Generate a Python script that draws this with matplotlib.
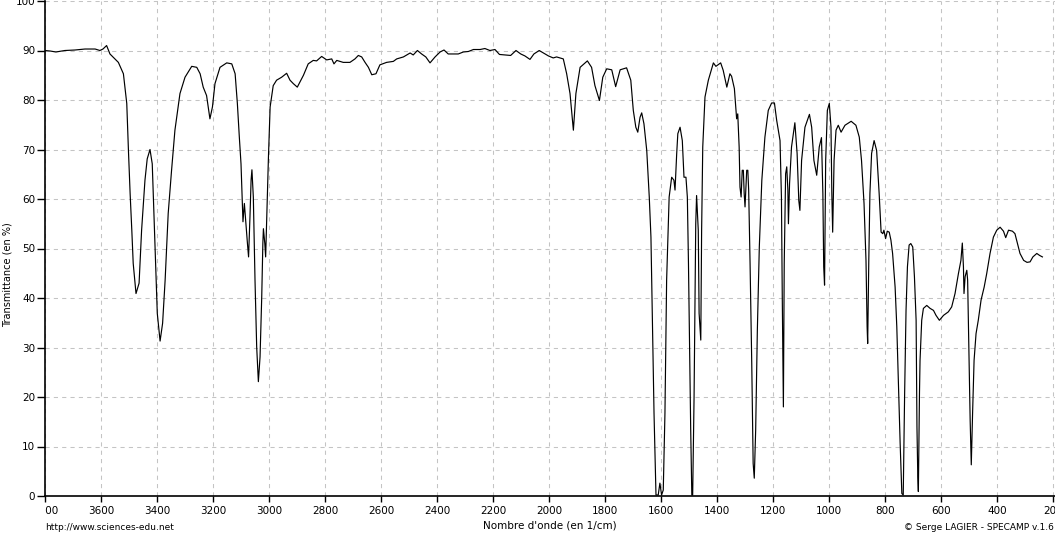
import matplotlib
matplotlib.use('Agg')
import matplotlib.pyplot as plt
from matplotlib.transforms import Bbox

# IR spectrum: wavenumber (1/cm) and transmittance (%)
wavenumber = [
    3800, 3782, 3761, 3729, 3693, 3657, 3621, 3604, 3593, 3580,
    3568, 3538, 3520, 3508, 3502, 3496, 3490, 3485, 3475, 3464,
    3455, 3443, 3435, 3425, 3417, 3411, 3405, 3399, 3389, 3380,
    3371, 3360, 3348, 3336, 3318, 3300, 3276, 3258, 3246, 3235,
    3223, 3211, 3202, 3193, 3175, 3151, 3133, 3121, 3113, 3106,
    3100, 3095, 3093, 3088, 3083, 3077, 3073, 3068, 3064, 3061,
    3056, 3050, 3044, 3038, 3032, 3026, 3022, 3020, 3015, 3012,
    3008, 3002, 2996, 2985, 2973, 2955, 2937, 2925, 2913, 2899,
    2877, 2860, 2842, 2830, 2812, 2794, 2776, 2768, 2758, 2735,
    2711, 2693, 2681, 2669, 2657, 2645, 2633, 2618, 2604, 2580,
    2556, 2544, 2520, 2496, 2485, 2470, 2455, 2440, 2425, 2407,
    2389, 2375, 2360, 2342, 2324, 2306, 2288, 2270, 2246, 2229,
    2211, 2193, 2177, 2157, 2137, 2118, 2101, 2086, 2068, 2054,
    2035, 2020, 2002, 1985, 1973, 1949, 1937, 1925, 1913, 1904,
    1889, 1863, 1848, 1836, 1820, 1808, 1794, 1776, 1762, 1746,
    1723, 1708, 1699, 1690, 1683, 1675, 1669, 1661, 1651, 1642,
    1636, 1630, 1625, 1618, 1610, 1604, 1598, 1592, 1586, 1580,
    1571, 1562, 1554, 1550, 1544, 1540, 1532, 1524, 1518, 1511,
    1506, 1502, 1498, 1494, 1490, 1487, 1482, 1479, 1476, 1473,
    1467, 1464, 1458, 1455, 1451, 1443, 1431, 1413, 1404, 1387,
    1378, 1365, 1354, 1348, 1338, 1332, 1330, 1326, 1321, 1318,
    1314, 1310, 1306, 1303, 1300, 1294, 1290, 1287, 1282, 1276,
    1271, 1267, 1262, 1256, 1249, 1240, 1229, 1217, 1205, 1195,
    1187, 1175, 1170, 1167, 1163, 1160, 1155, 1151, 1147, 1145,
    1141, 1134, 1122, 1114, 1108, 1104, 1098, 1086, 1070, 1062,
    1054, 1044, 1035, 1027, 1022, 1019, 1016, 1012, 1006, 999,
    993, 990, 987, 982, 975, 967, 957, 943, 921, 904,
    892, 884, 875, 868, 864, 862, 858, 854, 848, 839,
    830, 821, 814, 808, 804, 798, 792, 785, 779, 773,
    764, 758, 753, 746, 740, 735, 730, 725, 720, 714,
    708, 701, 695, 689, 686, 683, 681, 677, 675, 669,
    663, 651, 639, 627, 618, 606, 591, 574, 562, 550,
    538, 529, 524, 520, 518, 514, 508, 505, 501, 496,
    492, 487, 482, 475, 467, 457, 446, 437, 425, 413,
    401, 389, 377, 369, 359, 345, 336, 327, 318, 305,
    293, 282, 272, 258, 248, 238,
]
transmittance = [
    90.0, 89.9, 89.7, 90.0, 90.1, 90.3, 90.3, 90.0, 90.3, 91.0,
    89.3, 87.6, 85.3, 79.3, 69.8, 61.1, 53.7, 47.0, 40.9, 43.0,
    53.7, 63.8, 68.1, 70.0, 67.1, 57.1, 47.0, 36.9, 31.3, 34.9,
    43.6, 57.1, 65.8, 73.9, 81.3, 84.6, 86.8, 86.6, 85.3, 82.6,
    80.9, 76.2, 78.6, 83.3, 86.6, 87.5, 87.3, 85.3, 79.3, 72.5,
    67.1, 59.1, 55.4, 59.1, 55.4, 51.0, 48.3, 56.4, 63.8, 65.9,
    60.4, 43.6, 30.1, 23.1, 28.1, 40.2, 51.0, 54.0, 51.0, 48.3,
    56.4, 68.5, 78.6, 82.9, 84.0, 84.6, 85.4, 84.0, 83.3, 82.6,
    85.0, 87.3, 88.0, 87.9, 88.8, 88.1, 88.3, 87.3, 88.0, 87.6,
    87.6, 88.3, 89.0, 88.7, 87.6, 86.6, 85.1, 85.3, 87.1, 87.6,
    87.8, 88.3, 88.7, 89.5, 89.1, 90.0, 89.3, 88.7, 87.5, 88.7,
    89.7, 90.1, 89.3, 89.3, 89.3, 89.7, 89.8, 90.2, 90.2, 90.4,
    90.0, 90.2, 89.2, 89.1, 89.0, 90.0, 89.3, 88.9, 88.2, 89.3,
    90.0, 89.5, 88.9, 88.5, 88.7, 88.3, 85.3, 81.3, 73.9, 81.3,
    86.6, 87.9, 86.6, 82.9, 79.9, 84.6, 86.3, 86.1, 82.7, 86.1,
    86.5, 84.0, 77.9, 74.5, 73.5, 76.5, 77.4, 75.2, 69.8, 60.4,
    52.3, 33.5, 16.7, 0.2, 0.2, 2.6, 0.2, 1.2, 16.7, 43.6,
    60.4, 64.4, 63.8, 61.8, 69.2, 73.2, 74.5, 71.8, 64.4, 64.4,
    60.4, 47.0, 30.1, 13.3, 0.2, 0.2, 20.0, 37.0, 55.0, 60.7,
    53.7, 36.9, 31.5, 53.7, 70.5, 80.6, 84.0, 87.5, 86.8, 87.5,
    86.0, 82.6, 85.3, 84.8, 82.3, 77.9, 76.2, 77.2, 70.5, 62.4,
    60.4, 65.8, 65.8, 61.1, 58.4, 65.8, 65.8, 61.8, 47.0, 26.8,
    6.6, 3.6, 13.3, 33.5, 50.3, 63.8, 72.5, 77.9, 79.4, 79.4,
    75.9, 71.8, 60.4, 40.2, 18.0, 47.0, 65.1, 66.5, 61.8, 55.0,
    63.1, 70.5, 75.4, 69.2, 59.7, 57.7, 67.8, 74.5, 77.1, 74.5,
    67.8, 64.8, 70.5, 72.4, 61.1, 46.3, 42.6, 67.8, 77.9, 79.3,
    74.5, 61.1, 53.3, 67.8, 73.9, 74.9, 73.5, 74.9, 75.7, 74.9,
    72.5, 67.8, 59.1, 47.6, 34.2, 30.8, 47.6, 61.1, 69.2, 71.8,
    69.8, 61.1, 53.3, 53.0, 53.7, 52.0, 53.5, 53.3, 51.7, 49.0,
    42.2, 34.2, 24.1, 10.6, 0.5, 0.2, 20.7, 37.5, 46.3, 50.7,
    51.0, 50.3, 44.3, 35.5, 14.0, 3.9, 0.9, 20.7, 27.4, 35.5,
    37.9, 38.5, 37.9, 37.5, 36.5, 35.5, 36.5, 37.2, 38.2, 40.9,
    44.9, 47.6, 51.1, 46.3, 40.9, 44.3, 45.6, 43.6, 30.8, 15.3,
    6.3, 17.4, 27.4, 32.8, 35.5, 39.6, 42.2, 44.9, 49.0, 52.3,
    53.7, 54.3, 53.5, 52.2, 53.7, 53.5, 53.0, 51.0, 49.0, 47.6,
    47.2, 47.3, 48.3, 49.0, 48.6, 48.3,
]

x_ticks = list(range(3800, 199, -200))
y_ticks = list(range(0, 101, 10))

W, H = 1055, 533
fig = plt.figure(figsize=(W / 100, H / 100), dpi=100)
fig.patch.set_facecolor('white')
plt.rcParams['font.family'] = ['DejaVu Sans']

# axes box in pixels: left spine at x=45, y=0 at 496, y=100 at ~1
ax = fig.add_axes([45 / W, (H - 496) / H, (W - 45) / W, 495 / H])
ax.plot(wavenumber, transmittance, color='black', linewidth=0.85)

ax.set_xlim(3800, 193)
ax.set_ylim(0, 100)
ax.set_xticks(x_ticks)
ax.set_yticks(y_ticks)

ax.grid(True, color='#c4c4c4', linestyle=(0, (4, 4)), linewidth=0.75)
ax.set_axisbelow(True)

for side in ['top', 'right']:
    ax.spines[side].set_visible(False)
for side in ['left', 'bottom']:
    ax.spines[side].set_linewidth(1.2)

ax.tick_params(axis='x', direction='out', length=4, width=1, pad=3, labelsize=7.5)
ax.tick_params(axis='y', direction='out', length=6, width=1, pad=1, labelsize=7.5)

# tick labels are cut at the left spine, as in the original
clip = Bbox.from_extents(45, 0, W, H)
for lab in ax.get_xticklabels():
    lab.set_clip_on(True)
    lab.set_clip_box(clip)

fig.text(550 / W, (H - 526) / H, "Nombre d'onde (en 1/cm)", ha='center', va='center', fontsize=7.5)
fig.text(8 / W, (H - 275) / H, 'Transmittance (en %)', ha='center', va='center',
         rotation=90, fontsize=7)
fig.text(45 / W, (H - 527) / H, 'http://www.sciences-edu.net', ha='left', va='center', fontsize=6.5)
fig.text(1054 / W, (H - 527) / H, '\u00a9 Serge LAGIER - SPECAMP v.1.6', ha='right', va='center',
         fontsize=6.5)

fig.savefig('out.png', dpi=100)
